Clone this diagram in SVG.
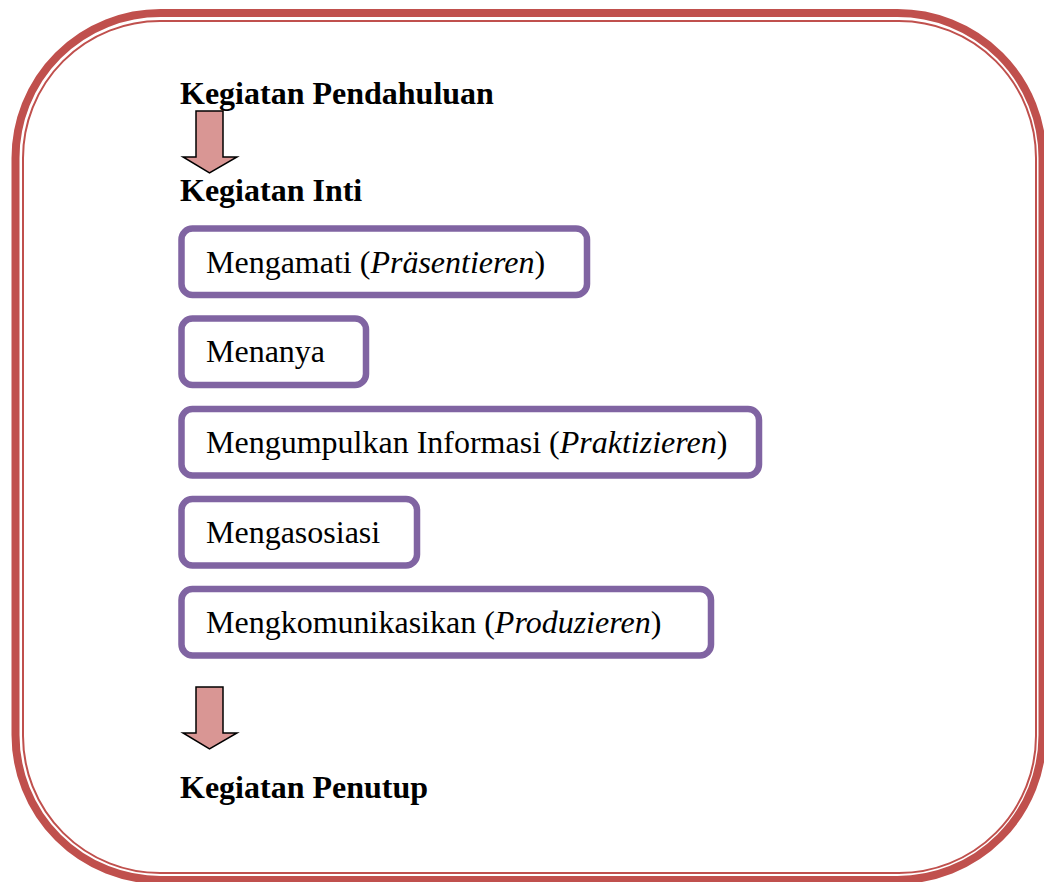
<svg xmlns="http://www.w3.org/2000/svg" width="1044" height="882" viewBox="0 0 1044 882">
<style>
.frame{fill:none;stroke:#C0504D}
.box{fill:#FFFFFF;stroke:#8064A2;stroke-width:6.5}
.arrow{fill:#D99694;stroke:#000000;stroke-width:1.5;stroke-linejoin:miter}
.h{font-family:"Liberation Serif","Times New Roman",serif;font-size:32px;font-weight:bold;fill:#000}
.t{font-family:"Liberation Serif","Times New Roman",serif;font-size:32px;fill:#000}
.i{font-style:italic}
</style>
<rect width="1044" height="882" fill="#FFFFFF"/>
<g id="frame">
<rect class="frame" x="15.5" y="13" width="1027" height="867" rx="145" ry="145" stroke-width="8"/>
<rect class="frame" x="23" y="21" width="1013" height="852" rx="137" ry="137" stroke-width="2"/>
</g>
<g id="pendahuluan"><text class="h" x="180" y="104">Kegiatan Pendahuluan</text></g>
<g id="inti"><text class="h" x="180" y="201">Kegiatan Inti</text></g>
<g id="mengamati">
<rect class="box" x="181.5" y="228.5" width="405.5" height="66.5" rx="11"/>
<text class="t" x="206" y="273">Mengamati (<tspan class="i">Präsentieren</tspan>)</text>
</g>
<g id="menanya">
<rect class="box" x="181.5" y="318.5" width="184.5" height="66.5" rx="11"/>
<text class="t" x="206" y="362">Menanya</text>
</g>
<g id="mengumpulkan">
<rect class="box" x="181.5" y="409" width="577.5" height="66.5" rx="11"/>
<text class="t" x="206" y="453">Mengumpulkan Informasi (<tspan class="i">Praktizieren</tspan>)</text>
</g>
<g id="mengasosiasi">
<rect class="box" x="181.5" y="499" width="235.5" height="66.5" rx="11"/>
<text class="t" x="206" y="543">Mengasosiasi</text>
</g>
<g id="mengkomunikasikan">
<rect class="box" x="181.5" y="589" width="529.5" height="66.5" rx="11"/>
<text class="t" x="206" y="633">Mengkomunikasikan (<tspan class="i">Produzieren</tspan>)</text>
</g>
<g id="penutup"><text class="h" x="180" y="798">Kegiatan Penutup</text></g>
<g id="connectors">
<polygon class="arrow" points="196,111 223,111 223,157 237,157 209.5,173 183,157 196,157"/>
<polygon class="arrow" points="196,687 223,687 223,733 237,733 209.5,749 183,733 196,733"/>
</g>
</svg>
